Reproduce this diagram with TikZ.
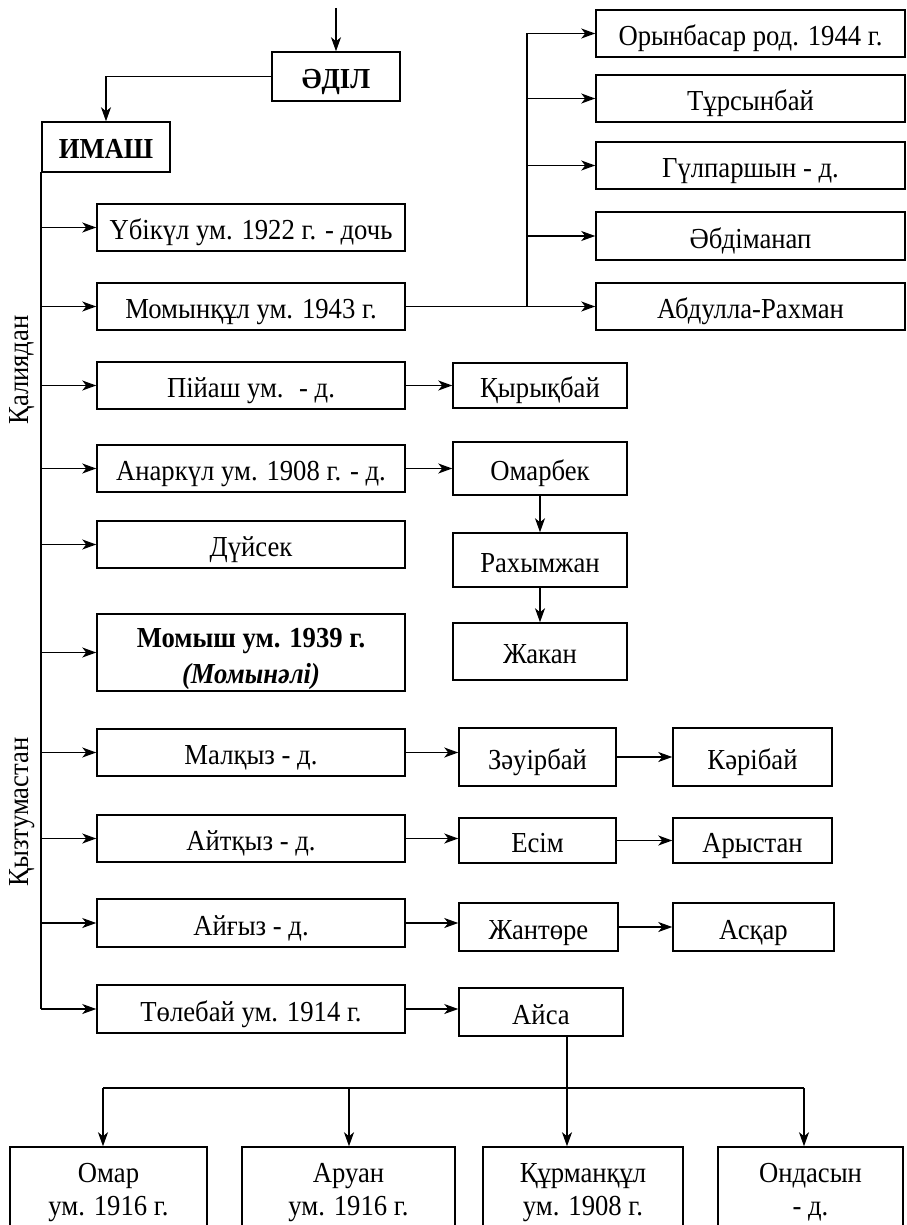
\documentclass[tikz,border=0pt]{standalone}
\usepackage{fontspec}
\setmainfont{Liberation Serif}[FakeStretch=0.92]
\usetikzlibrary{arrows.meta,calc}
\begin{document}
\begin{tikzpicture}[x=1pt,y=-1pt,
  box/.style={draw, line width=1.5pt, inner sep=0pt, align=center, font=\fontsize{29}{34}\selectfont},
  one/.style={text height=27pt, text depth=3pt},
  arr/.style={line width=1.2pt, -{Stealth[length=14pt,width=10pt,inset=4pt]}},
  ln/.style={line width=1.2pt},
  side/.style={rotate=90, font=\fontsize{29}{30}\selectfont}]
\useasboundingbox (0,0) rectangle (906,1225);
% top
\node[box, one, minimum width=128pt, minimum height=49pt, font=\fontsize{29}{30}\selectfont\bfseries] (adil) at (336,76.5) {ӘДІЛ};
\node[box, one, minimum width=128pt, minimum height=50pt, font=\fontsize{29}{30}\selectfont\bfseries] (imash) at (106,147) {ИМАШ};
\coordinate (top) at (336,8);
\draw[arr] (top) -- (adil.north);
\draw[arr] (adil.west) -| (imash.north);
% left column
\node[box, one, minimum width=308pt, minimum height=47pt] (ubikul) at (251,227.5) {Үбікүл ум. 1922 г. - дочь};
\node[box, one, minimum width=308pt, minimum height=47pt] (momynkul) at (251,306.5) {Момынқұл ум. 1943 г.};
\node[box, one, minimum width=308pt, minimum height=47pt] (piyash) at (251,385.5) {Пійаш ум. \ - д.};
\node[box, one, minimum width=308pt, minimum height=47pt] (anarkul) at (251,468.5) {Анаркүл ум. 1908 г. - д.};
\node[box, one, minimum width=308pt, minimum height=47pt] (duysek) at (251,544.5) {Дүйсек};
\node[box, minimum width=308pt, minimum height=77pt, font=\fontsize{29}{36}\selectfont, text height=64pt, text depth=3pt] (momysh) at (251,652.5) {\bfseries Момыш ум. 1939 г.\\\bfseries\itshape (Момынәлі)};
\node[box, one, minimum width=308pt, minimum height=47pt] (malkyz) at (251,752.5) {Малқыз - д.};
\node[box, one, minimum width=308pt, minimum height=47pt] (aitkyz) at (251,838.5) {Айтқыз - д.};
\node[box, one, minimum width=308pt, minimum height=48pt] (aigyz) at (251,923) {Айғыз - д.};
\node[box, one, minimum width=308pt, minimum height=48pt] (tolebai) at (251,1009) {Төлебай ум. 1914 г.};
% side labels
\node[side] (kaliya) at (22,370) {Қалиядан};
\node[side] (kyztum) at (22,812) {Қызтумастан};
% trunk
\coordinate (trunk) at (41,172);
\draw[ln] (trunk) -- (tolebai.west -| trunk);
\foreach \n in {ubikul,momynkul,piyash,anarkul,duysek,momysh,malkyz,aitkyz,aigyz,tolebai}
  \draw[arr] (\n.west -| trunk) -- (\n.west);
% right top column
\node[box, one, minimum width=309pt, minimum height=47pt] (orynbasar) at (750.5,33.5) {Орынбасар род. 1944 г.};
\node[box, one, minimum width=309pt, minimum height=47pt] (tursynbai) at (750.5,98.5) {Тұрсынбай};
\node[box, one, minimum width=309pt, minimum height=47pt] (gulparshyn) at (750.5,165.5) {Гүлпаршын - д.};
\node[box, one, minimum width=309pt, minimum height=48pt] (abdimanap) at (750.5,236) {Әбдіманап};
\node[box, one, minimum width=309pt, minimum height=47pt] (abdulla) at (750.5,306.5) {Абдулла-Рахман};
\coordinate (rbus) at (527,33.5);
\draw[ln] (rbus) -- (abdulla.west -| rbus);
\draw[ln] (momynkul.east) -- (momynkul.east -| rbus);
\foreach \n in {orynbasar,tursynbai,gulparshyn,abdimanap,abdulla}
  \draw[arr] (\n.west -| rbus) -- (\n.west);
% middle column
\node[box, one, minimum width=174pt, minimum height=45pt] (kyrykbai) at (540,385.5) {Қырықбай};
\node[box, one, minimum width=174pt, minimum height=53pt] (omarbek) at (540,468.5) {Омарбек};
\node[box, one, minimum width=174pt, minimum height=54pt] (rahymzhan) at (540,560) {Рахымжан};
\node[box, one, minimum width=174pt, minimum height=57pt] (zhakan) at (540,651.5) {Жакан};
\draw[arr] (piyash.east) -- (kyrykbai.west);
\draw[arr] (anarkul.east) -- (omarbek.west);
\draw[arr] (omarbek.south) -- (rahymzhan.north);
\draw[arr] (rahymzhan.south) -- (zhakan.north);
\node[box, one, minimum width=157pt, minimum height=58pt] (zauirbai) at (537.5,757) {Зәуірбай};
\node[box, one, minimum width=159pt, minimum height=58pt] (karibai) at (752.5,757) {Кәрібай};
\node[box, one, minimum width=157pt, minimum height=45pt] (esim) at (537.5,840.5) {Есім};
\node[box, one, minimum width=159pt, minimum height=45pt] (arystan) at (752.5,840.5) {Арыстан};
\node[box, one, minimum width=159pt, minimum height=48pt] (zhantore) at (538.5,927) {Жантөре};
\node[box, one, minimum width=161pt, minimum height=48pt] (askar) at (753.5,927) {Асқар};
\node[box, one, minimum width=164pt, minimum height=48pt] (aisa) at (541,1012) {Айса};
\draw[arr] (malkyz.east) -- (malkyz.east -| zauirbai.west);
\draw[arr] (zauirbai.east) -- (karibai.west);
\draw[arr] (aitkyz.east) -- (aitkyz.east -| esim.west);
\draw[arr] (esim.east) -- (arystan.west);
\draw[arr] (aigyz.east) -- (aigyz.east -| zhantore.west);
\draw[arr] (zhantore.east) -- (askar.west);
\draw[arr] (tolebai.east) -- (tolebai.east -| aisa.west);
% bottom row
\tikzset{two/.style={box, minimum height=100pt, font=\fontsize{29}{33}\selectfont, text height=39pt, text depth=3pt}}
\node[two, minimum width=197pt] (omar) at (108.5,1197) {Омар\\ум. 1916 г.};
\node[two, minimum width=213pt] (aruan) at (348.5,1197) {Аруан\\ум. 1916 г.};
\node[two, minimum width=200pt] (kurmankul) at (583,1197) {Құрманқұл\\ум. 1908 г.};
\node[two, minimum width=185pt] (ondasyn) at (810.5,1197) {Ондасын\\- д.};
\coordinate (busL) at (103,1088);
\coordinate (busA) at (349,1088);
\coordinate (busK) at (567,1088);
\coordinate (busR) at (804,1088);
\draw[ln] (busL) -- (busR);
\draw[arr] (aisa.south -| busK) -- (kurmankul.north -| busK);
\draw[arr] (busL) -- (omar.north -| busL);
\draw[arr] (busA) -- (aruan.north -| busA);
\draw[arr] (busR) -- (ondasyn.north -| busR);
\end{tikzpicture}
\end{document}
